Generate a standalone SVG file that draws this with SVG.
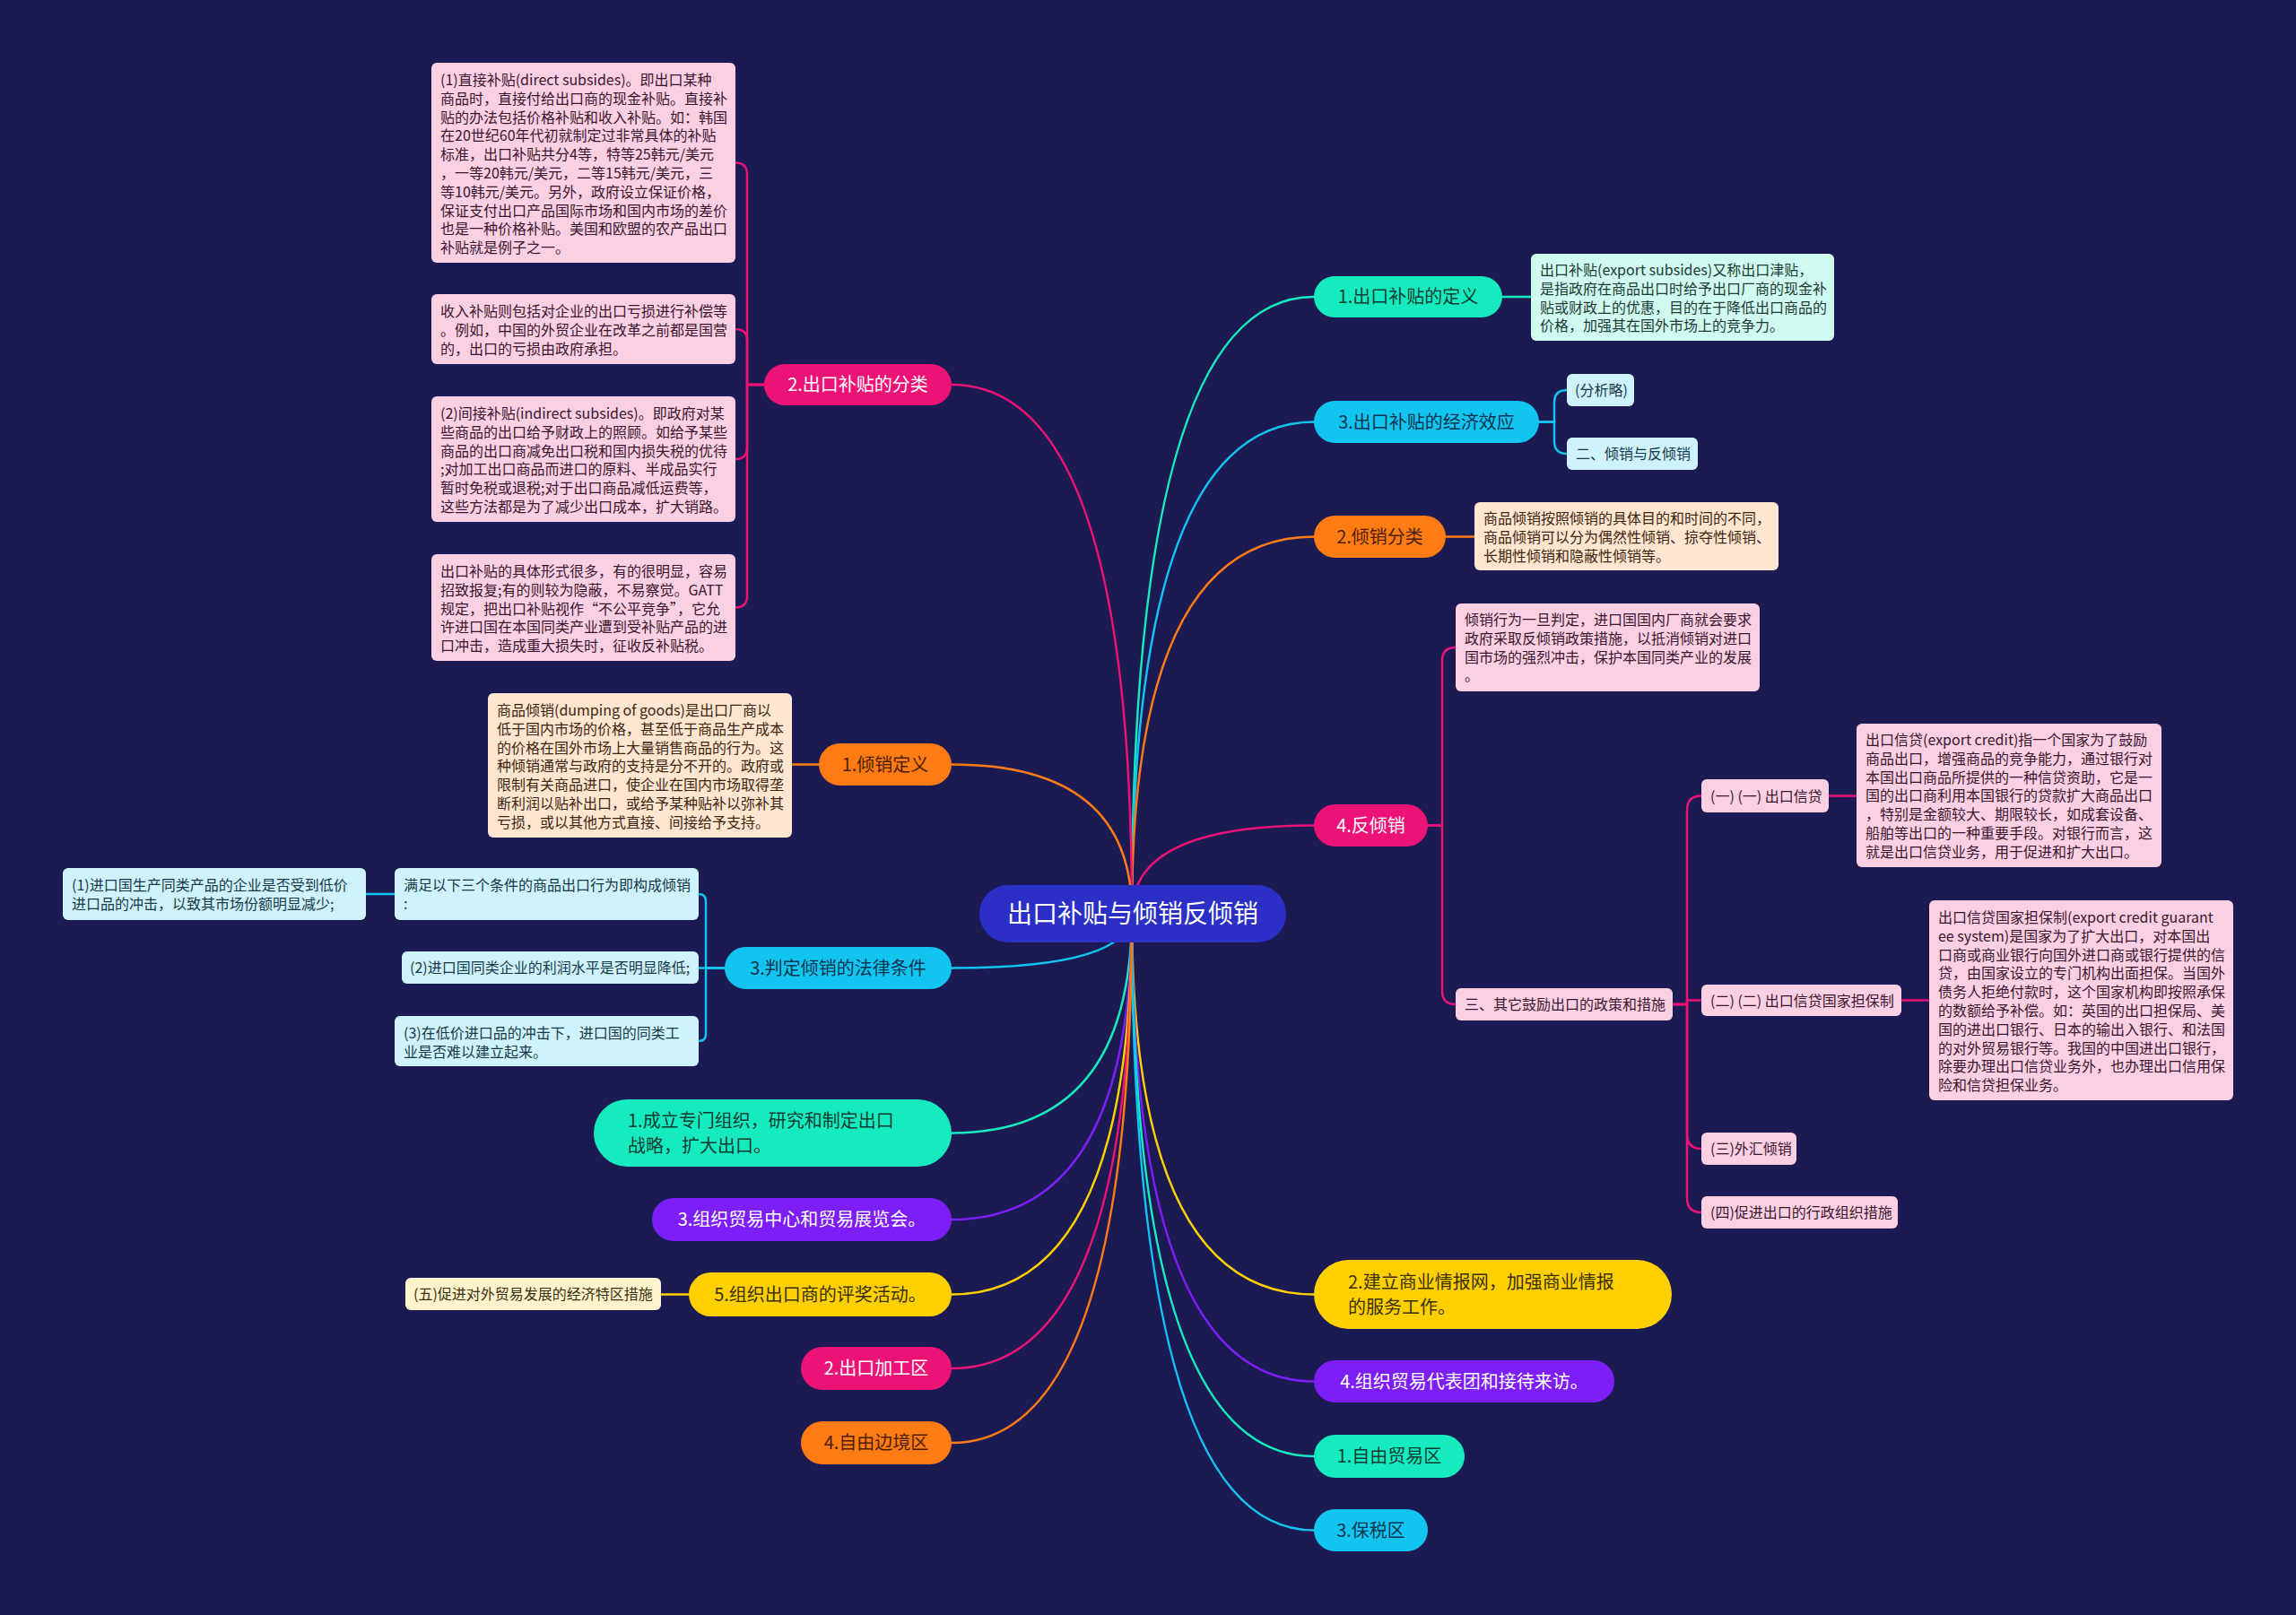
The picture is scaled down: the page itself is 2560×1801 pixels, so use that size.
<svg xmlns="http://www.w3.org/2000/svg" width="2560" height="1801" viewBox="0 0 2560 1801">
<style>
text{font-family:"Noto Sans CJK SC","Noto Sans",sans-serif;}
.mn{font-size:20px;}
.ct{font-size:16px;}
.c{fill:none;stroke-width:2.5;stroke-linecap:round;}
.mint{fill:#16ebbf;} .cyan{fill:#12c5f0;} .orng{fill:#ff7b14;} .mag{fill:#ec1276;} .yel{fill:#ffd000;} .pur{fill:#7d1ef6;}
.tmint{fill:#0f3d34;} .tcyan{fill:#0b3550;} .torng{fill:#4d1f00;} .tyel{fill:#3b3000;} .tw{fill:#ffffff;}
.lpink{fill:#fcd0e3;} .lmint{fill:#d0fbf1;} .lcyan{fill:#cff3fc;} .lorng{fill:#ffe6d0;} .lyel{fill:#fff4cc;}
.tp{fill:#3a1530;} .tm{fill:#1d3a36;} .tc{fill:#163848;} .to{fill:#3d2510;} .ty{fill:#3a3010;}
.s-mint{stroke:#16ebbf;} .s-cyan{stroke:#12c5f0;} .s-orng{stroke:#ff7b14;} .s-mag{stroke:#ec1276;} .s-yel{stroke:#ffd000;} .s-pur{stroke:#7d1ef6;}
</style>
<rect x="0" y="0" width="2560" height="1801" fill="#1b1a52"/>

<g id="connectors">
  <path class="c s-mint" d="M1262 1018 Q1262 331 1465 331"/>
  <path class="c s-cyan" d="M1262 1018 Q1262 470.5 1465 470.5"/>
  <path class="c s-orng" d="M1262 1018 Q1262 598.5 1465 598.5"/>
  <path class="c s-mag" d="M1262 1018 Q1262 920.5 1465 920.5"/>
  <path class="c s-yel" d="M1262 1018 Q1262 1443.5 1465 1443.5"/>
  <path class="c s-pur" d="M1262 1018 Q1262 1540.5 1465 1540.5"/>
  <path class="c s-mint" d="M1262 1018 Q1262 1624 1465 1624"/>
  <path class="c s-cyan" d="M1262 1018 Q1262 1706.5 1465 1706.5"/>
  <path class="c s-mag" d="M1262 1018 Q1262 429 1061 429"/>
  <path class="c s-orng" d="M1262 1018 Q1262 852.5 1061 852.5"/>
  <path class="c s-cyan" d="M1262 1018 Q1262 1079.5 1061 1079.5"/>
  <path class="c s-mint" d="M1262 1018 Q1262 1263.5 1061 1263.5"/>
  <path class="c s-pur" d="M1262 1018 Q1262 1360 1061 1360"/>
  <path class="c s-yel" d="M1262 1018 Q1262 1443.5 1061 1443.5"/>
  <path class="c s-mag" d="M1262 1018 Q1262 1526 1061 1526"/>
  <path class="c s-orng" d="M1262 1018 Q1262 1609 1061 1609"/>

  <path class="c s-mag" d="M852 429 H833 V194.5 Q833 181.5 820 181.5"/>
  <path class="c s-mag" d="M852 429 H833 V380 Q833 367 820 367"/>
  <path class="c s-mag" d="M852 429 H833 V499 Q833 512 820 512"/>
  <path class="c s-mag" d="M852 429 H833 V664.5 Q833 677.5 820 677.5"/>

  <path class="c s-cyan" d="M808 1079.5 H787 V1005 Q787 997 779 997"/>
  <path class="c s-cyan" d="M808 1079.5 H779"/>
  <path class="c s-cyan" d="M808 1079.5 H787 V1153 Q787 1161 779 1161"/>
  <path class="c s-cyan" d="M440 997 H408"/>

  <path class="c s-cyan" d="M1716 470.5 H1733 V449 Q1733 435 1747 435"/>
  <path class="c s-cyan" d="M1716 470.5 H1733 V492 Q1733 506 1747 506"/>

  <path class="c s-mag" d="M1592 920.5 H1608 V737 Q1608 722 1623 722"/>
  <path class="c s-mag" d="M1592 920.5 H1608 V1105 Q1608 1120 1623 1120"/>

  <path class="c s-mag" d="M1865 1120 H1881 V903.5 Q1881 887.5 1897 887.5"/>
  <path class="c s-mag" d="M1865 1120 H1881 V1115.5 H1897"/>
  <path class="c s-mag" d="M1865 1120 H1881 V1265 Q1881 1281 1897 1281"/>
  <path class="c s-mag" d="M1865 1120 H1881 V1336 Q1881 1352 1897 1352"/>
  <path class="c s-mag" d="M2039 887.5 H2070"/>
  <path class="c s-mag" d="M2120 1115.5 H2151"/>

  <path class="c s-mint" d="M1675 331 H1707"/>
  <path class="c s-orng" d="M1612 598.5 H1644"/>
  <path class="c s-orng" d="M913 852.5 H883"/>
  <path class="c s-yel" d="M768 1443.5 H737"/>
</g>

<g id="root">
  <rect x="1092" y="987" width="342" height="64" rx="32" fill="#2b2fc6"/>
  <text x="1263" y="1029" font-size="28" text-anchor="middle" class="tw">出口补贴与倾销反倾销</text>
</g>

<g id="r1">
  <rect x="1465" y="308" width="210" height="46" rx="23" class="mint"/>
  <text x="1570" y="338" class="mn tmint" text-anchor="middle">1.出口补贴的定义</text>
</g>
<g id="r1-box">
  <rect x="1707" y="283" width="338" height="97" rx="6" class="lmint"/>
  <text class="ct tm" x="1717" y="307"><tspan x="1717">出口补贴(export subsides)又称出口津贴，</tspan><tspan x="1717" dy="20.8">是指政府在商品出口时给予出口厂商的现金补</tspan><tspan x="1717" dy="20.8">贴或财政上的优惠，目的在于降低出口商品的</tspan><tspan x="1717" dy="20.8">价格，加强其在国外市场上的竞争力。</tspan></text>
</g>

<g id="r2">
  <rect x="1465" y="447" width="251" height="47" rx="23.5" class="cyan"/>
  <text x="1590.5" y="477.5" class="mn tcyan" text-anchor="middle">3.出口补贴的经济效应</text>
</g>
<g id="r2-a">
  <rect x="1747" y="417" width="75" height="36" rx="6" class="lcyan"/>
  <text x="1756" y="441" class="ct tc">(分析略)</text>
</g>
<g id="r2-b">
  <rect x="1747" y="488" width="146" height="36" rx="6" class="lcyan"/>
  <text x="1757" y="512" class="ct tc">二、倾销与反倾销</text>
</g>

<g id="r3">
  <rect x="1465" y="575" width="147" height="47" rx="23.5" class="orng"/>
  <text x="1538.5" y="605.5" class="mn torng" text-anchor="middle">2.倾销分类</text>
</g>
<g id="r3-box">
  <rect x="1644" y="560" width="339" height="76" rx="6" class="lorng"/>
  <text class="ct to" x="1654" y="584"><tspan x="1654">商品倾销按照倾销的具体目的和时间的不同，</tspan><tspan x="1654" dy="20.8">商品倾销可以分为偶然性倾销、掠夺性倾销、</tspan><tspan x="1654" dy="20.8">长期性倾销和隐蔽性倾销等。</tspan></text>
</g>

<g id="r4">
  <rect x="1465" y="897" width="127" height="47" rx="23.5" class="mag"/>
  <text x="1528.5" y="927.5" class="mn tw" text-anchor="middle">4.反倾销</text>
</g>
<g id="r4-box">
  <rect x="1623" y="673" width="339" height="98" rx="6" class="lpink"/>
  <text class="ct tp" x="1633" y="697"><tspan x="1633">倾销行为一旦判定，进口国国内厂商就会要求</tspan><tspan x="1633" dy="20.8">政府采取反倾销政策措施，以抵消倾销对进口</tspan><tspan x="1633" dy="20.8">国市场的强烈冲击，保护本国同类产业的发展</tspan><tspan x="1633" dy="20.8">。</tspan></text>
</g>
<g id="r4-three">
  <rect x="1623" y="1102" width="242" height="36" rx="6" class="lpink"/>
  <text x="1633" y="1126" class="ct tp">三、其它鼓励出口的政策和措施</text>
</g>
<g id="credit">
  <rect x="1897" y="869" width="142" height="37" rx="6" class="lpink"/>
  <text x="1907" y="893.5" class="ct tp">(一) (一) 出口信贷</text>
</g>
<g id="credit-box">
  <rect x="2070" y="807" width="340" height="160" rx="6" class="lpink"/>
  <text class="ct tp" x="2080" y="831"><tspan x="2080">出口信贷(export credit)指一个国家为了鼓励</tspan><tspan x="2080" dy="20.8">商品出口，增强商品的竞争能力，通过银行对</tspan><tspan x="2080" dy="20.8">本国出口商品所提供的一种信贷资助，它是一</tspan><tspan x="2080" dy="20.8">国的出口商利用本国银行的贷款扩大商品出口</tspan><tspan x="2080" dy="20.8">，特别是金额较大、期限较长，如成套设备、</tspan><tspan x="2080" dy="20.8">船舶等出口的一种重要手段。对银行而言，这</tspan><tspan x="2080" dy="20.8">就是出口信贷业务，用于促进和扩大出口。</tspan></text>
</g>
<g id="guarantee">
  <rect x="1897" y="1098" width="223" height="35" rx="6" class="lpink"/>
  <text x="1907" y="1121.5" class="ct tp">(二) (二) 出口信贷国家担保制</text>
</g>
<g id="guarantee-box">
  <rect x="2151" y="1004" width="339" height="223" rx="6" class="lpink"/>
  <text class="ct tp" x="2161" y="1029"><tspan x="2161">出口信贷国家担保制(export credit guarant</tspan><tspan x="2161" dy="20.8">ee system)是国家为了扩大出口，对本国出</tspan><tspan x="2161" dy="20.8">口商或商业银行向国外进口商或银行提供的信</tspan><tspan x="2161" dy="20.8">贷，由国家设立的专门机构出面担保。当国外</tspan><tspan x="2161" dy="20.8">债务人拒绝付款时，这个国家机构即按照承保</tspan><tspan x="2161" dy="20.8">的数额给予补偿。如：英国的出口担保局、美</tspan><tspan x="2161" dy="20.8">国的进出口银行、日本的输出入银行、和法国</tspan><tspan x="2161" dy="20.8">的对外贸易银行等。我国的中国进出口银行，</tspan><tspan x="2161" dy="20.8">除要办理出口信贷业务外，也办理出口信用保</tspan><tspan x="2161" dy="20.8">险和信贷担保业务。</tspan></text>
</g>
<g id="forex">
  <rect x="1897" y="1263" width="106" height="36" rx="6" class="lpink"/>
  <text x="1907" y="1287" class="ct tp">(三)外汇倾销</text>
</g>
<g id="admin">
  <rect x="1897" y="1334" width="219" height="36" rx="6" class="lpink"/>
  <text x="1907" y="1358" class="ct tp">(四)促进出口的行政组织措施</text>
</g>

<g id="r5">
  <rect x="1465" y="1405" width="399" height="77" rx="38.5" class="yel"/>
  <text class="mn tyel" x="1503" y="1436.5"><tspan x="1503">2.建立商业情报网，加强商业情报</tspan><tspan x="1503" dy="28">的服务工作。</tspan></text>
</g>
<g id="r6">
  <rect x="1465" y="1517" width="335" height="47" rx="23.5" class="pur"/>
  <text x="1632.5" y="1547.5" class="mn tw" text-anchor="middle">4.组织贸易代表团和接待来访。</text>
</g>
<g id="r7">
  <rect x="1465" y="1600" width="168" height="48" rx="24" class="mint"/>
  <text x="1549" y="1631" class="mn tmint" text-anchor="middle">1.自由贸易区</text>
</g>
<g id="r8">
  <rect x="1465" y="1683" width="127" height="47" rx="23.5" class="cyan"/>
  <text x="1528.5" y="1713.5" class="mn tcyan" text-anchor="middle">3.保税区</text>
</g>

<g id="l1">
  <rect x="852" y="406" width="209" height="46" rx="23" class="mag"/>
  <text x="956.5" y="436" class="mn tw" text-anchor="middle">2.出口补贴的分类</text>
</g>
<g id="l1-b1">
  <rect x="481" y="70" width="339" height="223" rx="6" class="lpink"/>
  <text class="ct tp" x="491" y="95"><tspan x="491">(1)直接补贴(direct subsides)。即出口某种</tspan><tspan x="491" dy="20.8">商品时，直接付给出口商的现金补贴。直接补</tspan><tspan x="491" dy="20.8">贴的办法包括价格补贴和收入补贴。如：韩国</tspan><tspan x="491" dy="20.8">在20世纪60年代初就制定过非常具体的补贴</tspan><tspan x="491" dy="20.8">标准，出口补贴共分4等，特等25韩元/美元</tspan><tspan x="491" dy="20.8">，一等20韩元/美元，二等15韩元/美元，三</tspan><tspan x="491" dy="20.8">等10韩元/美元。另外，政府设立保证价格，</tspan><tspan x="491" dy="20.8">保证支付出口产品国际市场和国内市场的差价</tspan><tspan x="491" dy="20.8">也是一种价格补贴。美国和欧盟的农产品出口</tspan><tspan x="491" dy="20.8">补贴就是例子之一。</tspan></text>
</g>
<g id="l1-b2">
  <rect x="481" y="328" width="339" height="78" rx="6" class="lpink"/>
  <text class="ct tp" x="491" y="353"><tspan x="491">收入补贴则包括对企业的出口亏损进行补偿等</tspan><tspan x="491" dy="20.8">。例如，中国的外贸企业在改革之前都是国营</tspan><tspan x="491" dy="20.8">的，出口的亏损由政府承担。</tspan></text>
</g>
<g id="l1-b3">
  <rect x="481" y="442" width="339" height="140" rx="6" class="lpink"/>
  <text class="ct tp" x="491" y="467"><tspan x="491">(2)间接补贴(indirect subsides)。即政府对某</tspan><tspan x="491" dy="20.8">些商品的出口给予财政上的照顾。如给予某些</tspan><tspan x="491" dy="20.8">商品的出口商减免出口税和国内损失税的优待</tspan><tspan x="491" dy="20.8">;对加工出口商品而进口的原料、半成品实行</tspan><tspan x="491" dy="20.8">暂时免税或退税;对于出口商品减低运费等，</tspan><tspan x="491" dy="20.8">这些方法都是为了减少出口成本，扩大销路。</tspan></text>
</g>
<g id="l1-b4">
  <rect x="481" y="618" width="339" height="119" rx="6" class="lpink"/>
  <text class="ct tp" x="491" y="643"><tspan x="491">出口补贴的具体形式很多，有的很明显，容易</tspan><tspan x="491" dy="20.8">招致报复;有的则较为隐蔽，不易察觉。GATT</tspan><tspan x="491" dy="20.8">规定，把出口补贴视作“不公平竞争”，它允</tspan><tspan x="491" dy="20.8">许进口国在本国同类产业遭到受补贴产品的进</tspan><tspan x="491" dy="20.8">口冲击，造成重大损失时，征收反补贴税。</tspan></text>
</g>

<g id="l2">
  <rect x="913" y="829" width="148" height="47" rx="23.5" class="orng"/>
  <text x="987" y="859.5" class="mn torng" text-anchor="middle">1.倾销定义</text>
</g>
<g id="l2-box">
  <rect x="544" y="773" width="339" height="161" rx="6" class="lorng"/>
  <text class="ct to" x="554" y="798"><tspan x="554">商品倾销(dumping of goods)是出口厂商以</tspan><tspan x="554" dy="20.8">低于国内市场的价格，甚至低于商品生产成本</tspan><tspan x="554" dy="20.8">的价格在国外市场上大量销售商品的行为。这</tspan><tspan x="554" dy="20.8">种倾销通常与政府的支持是分不开的。政府或</tspan><tspan x="554" dy="20.8">限制有关商品进口，使企业在国内市场取得垄</tspan><tspan x="554" dy="20.8">断利润以贴补出口，或给予某种贴补以弥补其</tspan><tspan x="554" dy="20.8">亏损，或以其他方式直接、间接给予支持。</tspan></text>
</g>

<g id="l3">
  <rect x="808" y="1056" width="253" height="47" rx="23.5" class="cyan"/>
  <text x="934.5" y="1086.5" class="mn tcyan" text-anchor="middle">3.判定倾销的法律条件</text>
</g>
<g id="l3-cond">
  <rect x="440" y="968" width="339" height="58" rx="6" class="lcyan"/>
  <text class="ct tc" x="450" y="993"><tspan x="450">满足以下三个条件的商品出口行为即构成倾销</tspan><tspan x="450" dy="20.8">:</tspan></text>
</g>
<g id="l3-c1">
  <rect x="70" y="968" width="338" height="58" rx="6" class="lcyan"/>
  <text class="ct tc" x="80" y="993"><tspan x="80">(1)进口国生产同类产品的企业是否受到低价</tspan><tspan x="80" dy="20.8">进口品的冲击，以致其市场份额明显减少;</tspan></text>
</g>
<g id="l3-c2">
  <rect x="448" y="1061" width="331" height="36" rx="6" class="lcyan"/>
  <text x="457" y="1085" class="ct tc">(2)进口国同类企业的利润水平是否明显降低;</text>
</g>
<g id="l3-c3">
  <rect x="440" y="1133" width="339" height="56" rx="6" class="lcyan"/>
  <text class="ct tc" x="450" y="1158"><tspan x="450">(3)在低价进口品的冲击下，进口国的同类工</tspan><tspan x="450" dy="20.8">业是否难以建立起来。</tspan></text>
</g>

<g id="l4">
  <rect x="662" y="1226" width="399" height="75" rx="37.5" class="mint"/>
  <text class="mn tmint" x="700" y="1256.5"><tspan x="700">1.成立专门组织，研究和制定出口</tspan><tspan x="700" dy="28">战略，扩大出口。</tspan></text>
</g>
<g id="l5">
  <rect x="727" y="1336" width="334" height="48" rx="24" class="pur"/>
  <text x="894" y="1367" class="mn tw" text-anchor="middle">3.组织贸易中心和贸易展览会。</text>
</g>
<g id="l6">
  <rect x="768" y="1419" width="293" height="49" rx="24.5" class="yel"/>
  <text x="914.5" y="1450.5" class="mn tyel" text-anchor="middle">5.组织出口商的评奖活动。</text>
</g>
<g id="l6-box">
  <rect x="452" y="1425" width="285" height="36" rx="6" class="lyel"/>
  <text x="461" y="1449" class="ct ty">(五)促进对外贸易发展的经济特区措施</text>
</g>
<g id="l7">
  <rect x="893" y="1502" width="168" height="48" rx="24" class="mag"/>
  <text x="977" y="1533" class="mn tw" text-anchor="middle">2.出口加工区</text>
</g>
<g id="l8">
  <rect x="893" y="1585" width="168" height="48" rx="24" class="orng"/>
  <text x="977" y="1616" class="mn torng" text-anchor="middle">4.自由边境区</text>
</g>
</svg>
